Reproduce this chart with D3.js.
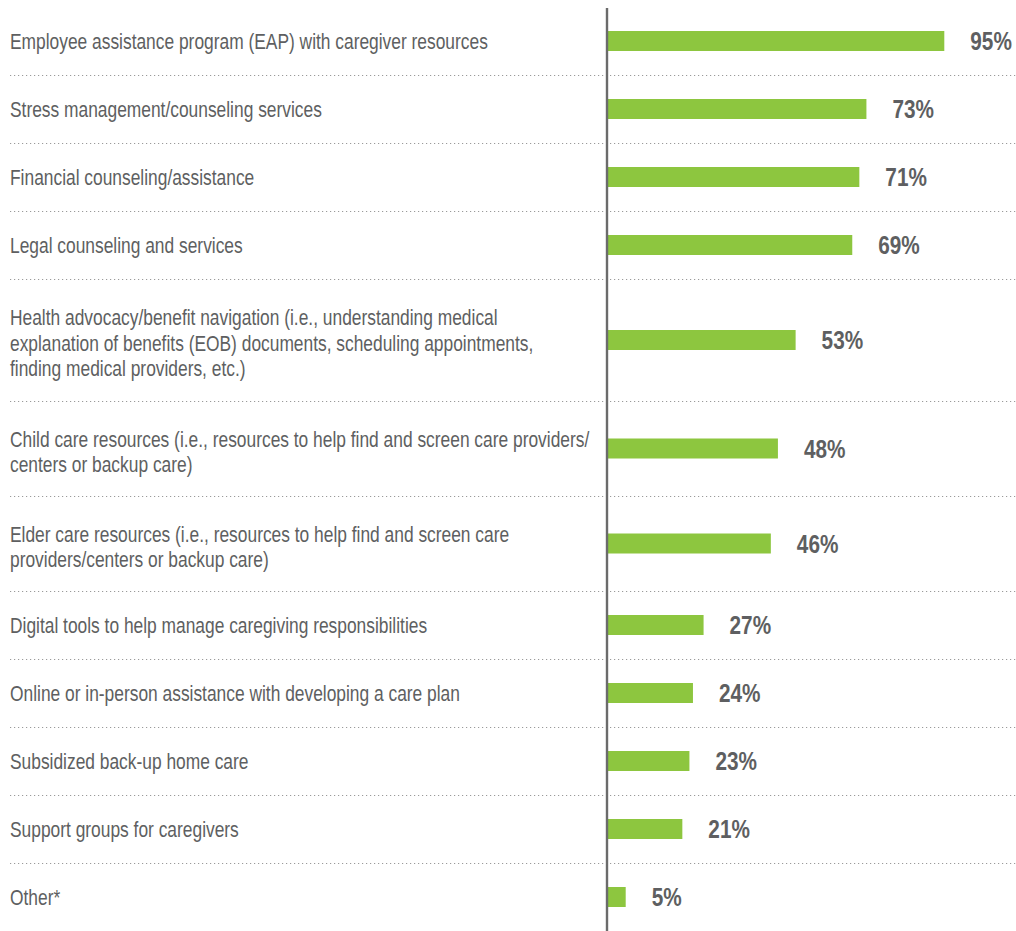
<!DOCTYPE html>
<html>
<head>
<meta charset="utf-8">
<script src="https://cdn.jsdelivr.net/npm/d3@7"></script>
<style>
  body { margin: 0; background: #fff; }
  .label { font-family: "Liberation Sans Narrow", "Liberation Sans", Arial, sans-serif; font-size: 22px; fill: #5e5f61; }
  .value { font-family: "Liberation Sans Narrow", "Liberation Sans", Arial, sans-serif; font-size: 25px; font-weight: bold; fill: #5e5f61; }
  .sep { stroke: #9a9a9a; stroke-width: 1; stroke-dasharray: 1.2,2.8; }
  .axis-line { stroke: #6b6b6b; stroke-width: 2.4; }
  .bar { fill: #8dc63f; }
</style>
</head>
<body>
<script>
// categories (line breaks as in the original)
const categories = [
  "Employee assistance program (EAP) with caregiver resources",
  "Stress management/counseling services",
  "Financial counseling/assistance",
  "Legal counseling and services",
  "Health advocacy/benefit navigation (i.e., understanding medical\nexplanation of benefits (EOB) documents, scheduling appointments,\nfinding medical providers, etc.)",
  "Child care resources (i.e., resources to help find and screen care providers/\ncenters or backup care)",
  "Elder care resources (i.e., resources to help find and screen care\nproviders/centers or backup care)",
  "Digital tools to help manage caregiving responsibilities",
  "Online or in-person assistance with developing a care plan",
  "Subsidized back-up home care",
  "Support groups for caregivers",
  "Other*"
];
const values = [95, 73, 71, 69, 53, 48, 46, 27, 24, 23, 21, 5];

const WIDTH = 1016,
      HEIGHT = 931;

let top0 = 7,
    lineH = 27,
    rowPad = 41,
    barH = 20,
    squeeze = 0.79,   // no condensed face installed, so narrow the text
    squeezeVal = 0.83;

let svg = d3.select("body").append("svg")
  .attr("width", WIDTH)
  .attr("height", HEIGHT);

// row layout: height depends on the number of text lines
let rows = [];
let y = top0;
categories.forEach((c, i) => {
  let lines = c.split("\n");
  let h = rowPad + lineH * lines.length;
  rows.push({lines: lines, value: values[i], y0: y, h: h});
  y += h;
});

let x = d3.scaleLinear()
  .domain([0, 100])
  .range([608, 608 + 354]);

// dotted separators
svg.selectAll(".sep")
  .data(rows.slice(0, -1))
  .enter().append("line")
    .attr("class", "sep")
    .attr("x1", 10)
    .attr("x2", WIDTH)
    .attr("y1", d => d.y0 + d.h + 0.5)
    .attr("y2", d => d.y0 + d.h + 0.5);

// category labels
let labelGroup = svg.append("g")
  .attr("transform", "translate(10,0) scale(" + squeeze + ",1)");

let labels = labelGroup.selectAll(".label")
  .data(rows)
  .enter().append("text")
    .attr("class", "label");

labels.each(function(d) {
  let n = d.lines.length;
  let cy = d.y0 + d.h / 2 + (n > 1 ? 3 : 0);
  let firstBase = cy - (n - 1) * 25.5 / 2 + 8;
  d3.select(this).selectAll("tspan")
    .data(d.lines)
    .enter().append("tspan")
      .attr("x", 0)
      .attr("y", (l, j) => firstBase + j * 25.5)
      .text(l => l);
});

// bars
svg.selectAll(".bar")
  .data(rows)
  .enter().append("rect")
    .attr("class", "bar")
    .attr("x", x(0))
    .attr("y", d => d.y0 + d.h / 2 - barH / 2)
    .attr("width", d => x(d.value) - x(0))
    .attr("height", barH);

// value labels
svg.selectAll(".value")
  .data(rows)
  .enter().append("text")
    .attr("class", "value")
    .attr("transform", d => "translate(" + (x(d.value) + 26) + "," +
                            (d.y0 + d.h / 2 + 9) + ") scale(" + squeezeVal + ",1)")
    .text(d => d.value + "%");

// vertical axis line
svg.append("line")
  .attr("class", "axis-line")
  .attr("x1", 607)
  .attr("x2", 607)
  .attr("y1", 8)
  .attr("y2", HEIGHT);
</script>
</body>
</html>
